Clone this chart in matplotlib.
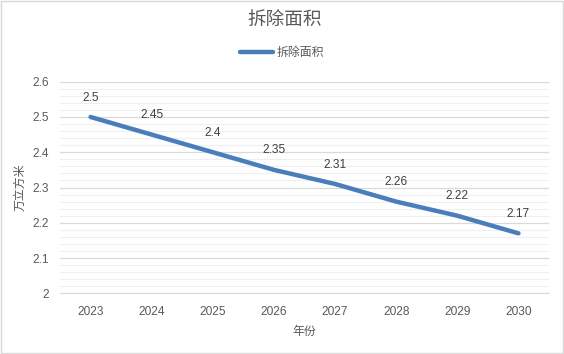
import numpy as np
import matplotlib
matplotlib.use('Agg')
import matplotlib.pyplot as plt
from matplotlib.ticker import MultipleLocator

plt.rcParams['font.family'] = ['Liberation Sans', 'Noto Sans CJK SC']

years = ['2023', '2024', '2025', '2026', '2027', '2028', '2029', '2030']
area = [2.5, 2.45, 2.4, 2.35, 2.31, 2.26, 2.22, 2.17]
series_name = '拆除面积'

text_c = '#595959'
line_c = '#4a7ebb'

fig = plt.figure(figsize=(5.64, 3.54), dpi=100)
ax = fig.add_axes([60 / 564, 1 - 293.3 / 354, 489 / 564, 211.6 / 354])

x = np.arange(len(years))
ax.plot(x, area, color=line_c, lw=3.2, solid_capstyle='round', label=series_name, zorder=3)
for xi, v in zip(x, area):
    ax.annotate(f'{v:g}', (xi, v), xytext=(0, 14), textcoords='offset points',
                ha='center', va='center', fontsize=8.6, color='#404040')

ax.set_xlim(-0.5, len(years) - 0.5)
ax.set_ylim(2, 2.6)
ax.set_xticks(x)
ax.set_xticklabels(years)
ax.yaxis.set_major_locator(MultipleLocator(0.1))
ax.yaxis.set_minor_locator(MultipleLocator(0.02))
ax.set_yticks([2, 2.1, 2.2, 2.3, 2.4, 2.5, 2.6])
ax.set_yticklabels(['2', '2.1', '2.2', '2.3', '2.4', '2.5', '2.6'])
ax.grid(axis='y', which='major', color='#d9d9d9', lw=0.9)
ax.grid(axis='y', which='minor', color='#efefef', lw=0.8)
ax.set_axisbelow(True)
ax.tick_params(axis='both', which='both', length=0, colors=text_c, labelsize=8.6)
ax.tick_params(axis='x', pad=9)
ax.tick_params(axis='y', pad=8)
for s in ['top', 'right', 'left']:
    ax.spines[s].set_visible(False)
ax.spines['bottom'].set_color('#d9d9d9')

ax.set_xlabel('年份', color=text_c, fontsize=8.6, labelpad=6)
ax.set_ylabel('万立方米', color=text_c, fontsize=8.6, labelpad=4)

fig.text(0.505, 1 - 20 / 354, series_name, ha='center', va='center', fontsize=13.4, color=text_c)
fig.legend(loc='center', bbox_to_anchor=(0.5, 1 - 53 / 354), frameon=False,
           fontsize=8.6, labelcolor=text_c, handlelength=2.8, handletextpad=0.3)

fig.patches.append(plt.Rectangle((0.001, 0.002), 0.997, 0.995, transform=fig.transFigure,
                                 fill=False, edgecolor='#d9d9d9', lw=1))

fig.savefig('out.png', dpi=100)
